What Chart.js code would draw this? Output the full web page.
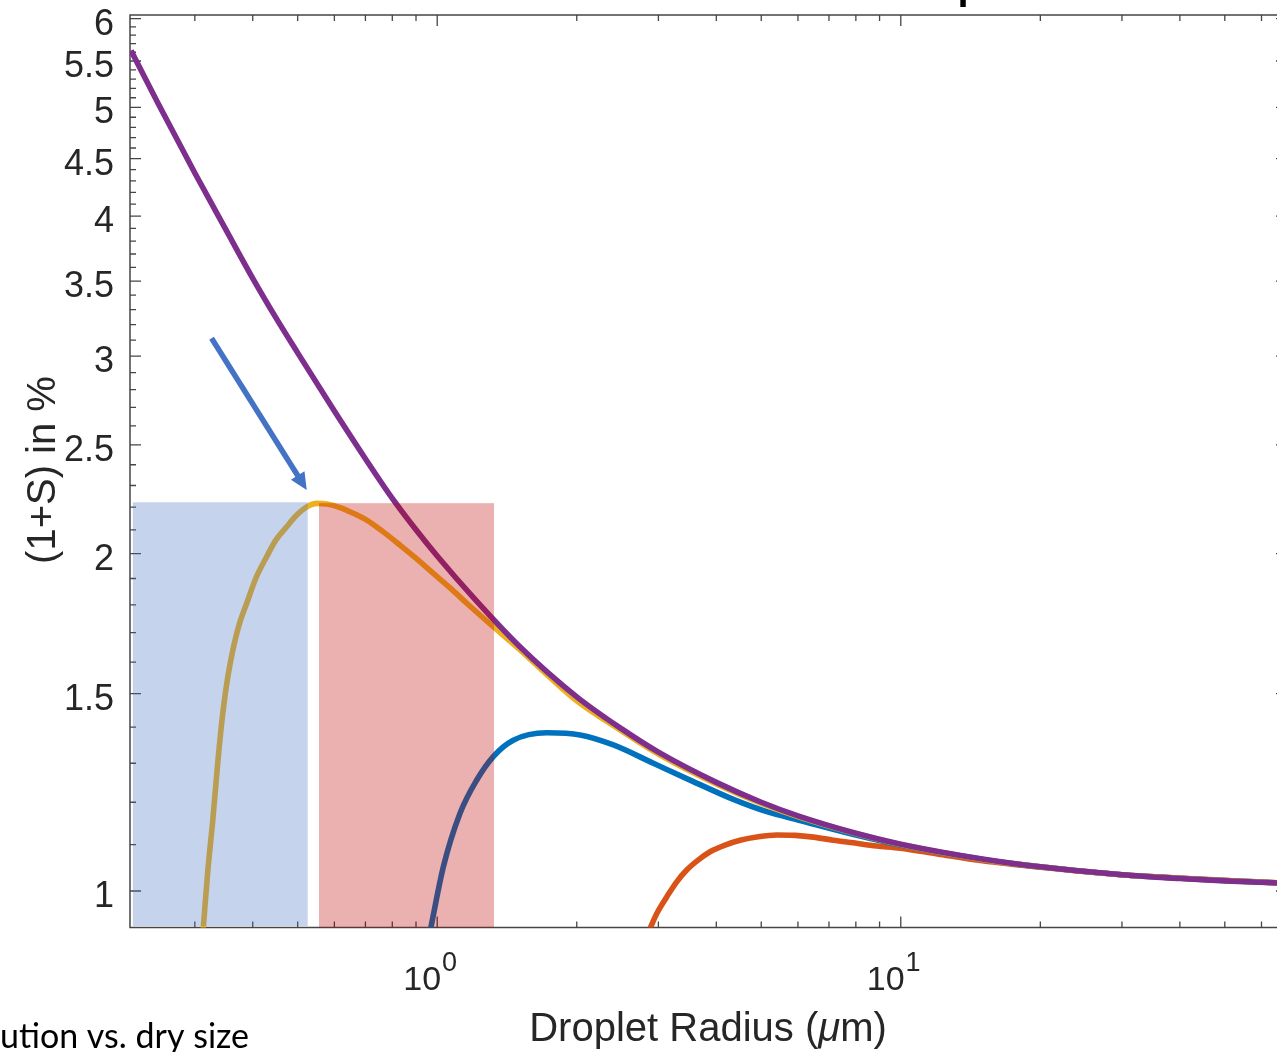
<!DOCTYPE html>
<html lang="en">
<head>
<meta charset="UTF-8">
<title>Köhler curves</title>
<style>
  body { margin: 0; background: #fff; overflow: hidden; }
  .wrap { position: relative; width: 1277px; height: 1052px; overflow: hidden; }
  #chart { position: absolute; left: 0; top: 0; }
</style>
</head>
<body>
<div class="wrap">
  <canvas id="chart" width="1290" height="1052"></canvas>
</div>

<script src="https://cdn.jsdelivr.net/npm/chart.js"></script>
<script>
// droplet radius (um) and saturation ratio (1+S)
const kelvinR = [0.2185, 0.25, 0.3, 0.35, 0.4, 0.45, 0.5, 0.6, 0.7, 0.8, 0.9, 1.0, 1.2, 1.5, 2, 2.5, 3, 4, 5, 6, 8, 10, 15, 20, 30, 40, 50, 68];
const kelvinS = [5.62, 5.04, 4.37, 3.89, 3.52, 3.24, 3.02, 2.68, 2.43, 2.24, 2.10, 1.99, 1.825, 1.655, 1.49, 1.395, 1.33, 1.25, 1.20, 1.167, 1.126, 1.101, 1.068, 1.051, 1.034, 1.026, 1.021, 1.016];

const smallR = [0.3128, 0.3201, 0.328, 0.3366, 0.3449, 0.3536, 0.3644, 0.3754, 0.3882, 0.4064, 0.4286, 0.4489,
  0.4735, 0.4959, 0.523, 0.5503, 0.5785, 0.6171, 0.6646, 0.7045, 0.765, 0.8312, 0.9032, 0.9808, 1.066,
  1.158, 1.321, 1.509, 1.734, 2.0, 2.48, 3.025, 4, 5, 6, 8, 10, 15, 20, 30, 68];
const smallS = [0.926, 1.044, 1.157, 1.309, 1.444, 1.555, 1.658, 1.738, 1.806, 1.902, 1.987, 2.057,
  2.113, 2.161, 2.201, 2.217, 2.214, 2.198, 2.169, 2.142, 2.091, 2.035, 1.978, 1.920, 1.864,
  1.806, 1.721, 1.641, 1.556, 1.478, 1.392, 1.322, 1.246, 1.197, 1.165, 1.125, 1.100, 1.067, 1.051, 1.034, 1.016];

const midR = [0.968, 1.031, 1.120, 1.217, 1.321, 1.459, 1.723, 2.033, 2.399, 2.926, 3.568, 4.353, 5.139, 6.06, 8, 10, 15, 20, 30, 68];
const midS = [0.926, 1.051, 1.173, 1.256, 1.318, 1.363, 1.384, 1.378, 1.350, 1.300, 1.252, 1.207, 1.177, 1.156, 1.122, 1.099, 1.067, 1.051, 1.034, 1.016];

const largeR = [2.878, 2.976, 3.127, 3.286, 3.453, 3.659, 3.878, 4.177, 4.501, 4.929, 5.401, 5.916, 6.478, 7.154,
  7.90, 8.876, 9.97, 12, 15, 20, 30, 68];
const largeS = [0.926, 0.955, 0.988, 1.019, 1.044, 1.066, 1.084, 1.099, 1.110, 1.118, 1.122, 1.121, 1.117, 1.110,
  1.104, 1.097, 1.092, 1.079, 1.064, 1.050, 1.034, 1.016];

// axis ticks
const xMajorTicks = [1, 10];
const xMinorTicks = [0.3, 0.4, 0.5, 0.6, 0.7, 0.8, 0.9, 2, 3, 4, 5, 6, 7, 8, 9, 20, 30, 40, 50, 60];
const yMajorTicks = [1, 1.5, 2, 2.5, 3, 3.5, 4, 4.5, 5, 5.5, 6];
const yMinorTicks = [1.1, 1.2, 1.3, 1.4, 1.6, 1.7, 1.8, 1.9, 2.1, 2.2, 2.3, 2.4, 2.6, 2.7, 2.8, 2.9,
  3.1, 3.2, 3.3, 3.4, 3.6, 3.7, 3.8, 3.9, 4.1, 4.2, 4.3, 4.4, 4.6, 4.7, 4.8, 4.9,
  5.1, 5.2, 5.3, 5.4, 5.6, 5.7, 5.8, 5.9];

// slide overlays (data coordinates)
const blueBand = { r0: 0.2205, r1: 0.5255, s0: 0.9307, s1: 2.222 };
const redBand = { r0: 0.5559, r1: 1.326, s0: 0.9278, s1: 2.218 };
const arrowFrom = { r: 0.326, s: 3.112 };
const arrowTo = { r: 0.523, s: 2.279 };

const FONT = '"Liberation Sans", Arial, Helvetica, sans-serif';
const INK = '#262626';

function pairs(rs, ss) {
  return rs.map((r, i) => ({ x: r, y: ss[i] }));
}

const lineStyle = {
  borderWidth: 5.6,
  pointRadius: 0,
  fill: false,
  cubicInterpolationMode: 'monotone',
  clip: 0
};

// MATLAB style box with inward ticks, labels and the slide annotations
const figurePlugin = {
  id: 'figure',
  beforeDatasetsDraw(chart) {
    const { ctx, chartArea: a, scales: { x, y } } = chart;
    ctx.save();
    ctx.strokeStyle = '#454545';
    ctx.lineWidth = 1.5;
    ctx.strokeRect(a.left, a.top, a.right - a.left, a.bottom - a.top);

    ctx.lineWidth = 1.3;
    ctx.beginPath();
    const xt = (v, len) => {
      const px = x.getPixelForValue(v);
      ctx.moveTo(px, a.bottom); ctx.lineTo(px, a.bottom - len);
      ctx.moveTo(px, a.top); ctx.lineTo(px, a.top + len);
    };
    const yt = (v, len) => {
      const py = y.getPixelForValue(v);
      ctx.moveTo(a.left, py); ctx.lineTo(a.left + len, py);
      ctx.moveTo(a.right, py); ctx.lineTo(a.right - len, py);
    };
    xMajorTicks.forEach(v => xt(v, 11));
    xMinorTicks.forEach(v => xt(v, 6));
    yMajorTicks.forEach(v => yt(v, 11));
    yMinorTicks.forEach(v => yt(v, 6));
    ctx.stroke();
    ctx.restore();
  },
  afterDatasetsDraw(chart) {
    const { ctx, scales: { x, y } } = chart;
    ctx.save();

    // shaded bands
    const band = (b, color) => {
      const x0 = x.getPixelForValue(b.r0), x1 = x.getPixelForValue(b.r1);
      const y0 = y.getPixelForValue(b.s0), y1 = y.getPixelForValue(b.s1);
      ctx.fillStyle = color;
      ctx.fillRect(x0, y1, x1 - x0, y0 - y1);
    };
    band(blueBand, 'rgba(68,114,196,0.31)');
    band(redBand, 'rgba(192,0,0,0.31)');

    // arrow
    const ax0 = x.getPixelForValue(arrowFrom.r), ay0 = y.getPixelForValue(arrowFrom.s);
    const ax1 = x.getPixelForValue(arrowTo.r), ay1 = y.getPixelForValue(arrowTo.s);
    const ang = Math.atan2(ay1 - ay0, ax1 - ax0);
    const headLen = 17, headHalf = 8;
    const bx = ax1 - headLen * Math.cos(ang), by = ay1 - headLen * Math.sin(ang);
    ctx.strokeStyle = '#4472C4';
    ctx.fillStyle = '#4472C4';
    ctx.lineWidth = 5.5;
    ctx.beginPath();
    ctx.moveTo(ax0, ay0);
    ctx.lineTo(bx + 2 * Math.cos(ang), by + 2 * Math.sin(ang));
    ctx.stroke();
    ctx.beginPath();
    ctx.moveTo(ax1, ay1);
    ctx.lineTo(bx + headHalf * Math.sin(ang), by - headHalf * Math.cos(ang));
    ctx.lineTo(bx - headHalf * Math.sin(ang), by + headHalf * Math.cos(ang));
    ctx.closePath();
    ctx.fill();

    // y tick labels
    ctx.fillStyle = INK;
    ctx.font = '36px ' + FONT;
    ctx.textAlign = 'right';
    ctx.textBaseline = 'alphabetic';
    yMajorTicks.forEach(v => {
      ctx.fillText(String(v), 114, y.getPixelForValue(v) + 16);
    });

    // x tick labels 10^n
    ctx.textAlign = 'left';
    xMajorTicks.forEach(v => {
      const px = x.getPixelForValue(v);
      ctx.font = '34px ' + FONT;
      const baseX = px - 34;
      ctx.fillText('10', baseX, 990);
      const w = ctx.measureText('10').width;
      ctx.font = '27px ' + FONT;
      ctx.fillText(String(Math.round(Math.log10(v))), baseX + w + 1, 971);
    });

    // x axis title with italic mu
    const parts = [['Droplet Radius (', ''], ['\u03bc', 'italic '], ['m)', '']];
    let total = 0;
    parts.forEach(p => { ctx.font = p[1] + '40px ' + FONT; total += ctx.measureText(p[0]).width; });
    let tx = 708 - total / 2;
    parts.forEach(p => {
      ctx.font = p[1] + '40px ' + FONT;
      ctx.fillText(p[0], tx, 1041);
      tx += ctx.measureText(p[0]).width;
    });

    // y axis title
    ctx.save();
    ctx.translate(55, 470);
    ctx.rotate(-Math.PI / 2);
    ctx.textAlign = 'center';
    ctx.font = '40px ' + FONT;
    ctx.fillText('(1+S) in %', 0, 0);
    ctx.restore();

    // clipped title fragment at the top edge
    ctx.fillStyle = '#000';
    ctx.font = 'bold 40px ' + FONT;
    ctx.fillText('p', 957.4, -1.4);

    // slide caption fragment, bottom left
    ctx.font = '34px Lato, "Open Sans", sans-serif';
    ctx.fillText('ution vs. dry size', 0, 1048);

    ctx.restore();
  }
};

new Chart(document.getElementById('chart'), {
  type: 'line',
  data: {
    datasets: [
      { label: 'Kelvin', data: pairs(kelvinR, kelvinS), borderColor: '#7E2F8E', ...lineStyle },
      { label: 'small dry size', data: pairs(smallR, smallS), borderColor: '#EDB120', ...lineStyle },
      { label: 'medium dry size', data: pairs(midR, midS), borderColor: '#0072BD', ...lineStyle },
      { label: 'large dry size', data: pairs(largeR, largeS), borderColor: '#D95319', ...lineStyle }
    ]
  },
  options: {
    responsive: false,
    animation: false,
    devicePixelRatio: 1,
    events: [],
    layout: { padding: { left: 130, top: 15, right: 3, bottom: 124.5 } },
    scales: {
      x: { type: 'logarithmic', min: 0.2174, max: 68.1, display: false },
      y: { type: 'logarithmic', min: 0.9278, max: 6.045, display: false }
    },
    plugins: {
      legend: { display: false },
      tooltip: { enabled: false },
      title: { display: false }
    }
  },
  plugins: [figurePlugin]
});
</script>
</body>
</html>
